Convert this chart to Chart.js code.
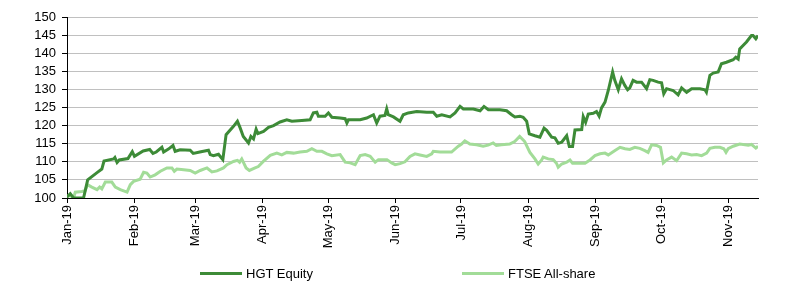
<!DOCTYPE html>
<html>
<head>
<meta charset="utf-8">
<script src="https://cdn.jsdelivr.net/npm/chart.js@4"></script>
<style>
  html, body { margin: 0; padding: 0; background: #fff; }
  #wrap { position: relative; width: 800px; height: 293px; font-family: "Liberation Sans", Arial, sans-serif; }
  .lg { position: absolute; top: 266px; height: 16px; font-size: 13px; line-height: 16px; color: #000; white-space: nowrap; }
  .lg i { display: inline-block; width: 42px; height: 3px; vertical-align: middle; margin-right: 4px; position: relative; top: -1px; }
</style>
</head>
<body>
<div id="wrap">
  <canvas id="c" width="800" height="293"></canvas>
  <div class="lg" style="left:200px"><i style="background:#3d8b37"></i>HGT Equity</div>
  <div class="lg" style="left:462px"><i style="background:#a2dc98"></i>FTSE All-share</div>
</div>
<script>
// month ticks (day number from 1 Jan 2019)
const monthStarts = [0, 31, 59, 90, 120, 151, 181, 212, 243, 273, 304];
const monthLabels = ['Jan-19', 'Feb-19', 'Mar-19', 'Apr-19', 'May-19', 'Jun-19', 'Jul-19', 'Aug-19', 'Sep-19', 'Oct-19', 'Nov-19'];

const yTicks = [100, 105, 110, 115, 120, 125, 130, 135, 140, 145, 150];

// HGT Equity, rebased to 100
const hgtDays = [0, 1.5, 3, 7.6, 9.5, 13.8, 16, 17, 21.4, 22, 23, 24, 28, 30, 31, 35, 38, 39.5, 41, 43.6,
  44.4, 46.6, 48.7, 49.7, 52, 56.6, 58, 61, 65, 65.8, 67.3, 69.6, 71.6, 73.1, 76.5, 78.3, 79.6, 81, 83.4, 84.5,
  85.7, 86.9, 87.7, 90.3, 92.6, 94.9, 97.9, 101, 103.3, 107.9, 111.7, 113.2, 114.8, 115.5, 118.6, 120.1, 121.7, 125.5, 127.8, 128.6,
  129.3, 134.7, 137.7, 140.8, 142.3, 143.8, 146.1, 146.9, 147.6, 150, 153, 154.5, 156.8, 160.7, 165.3, 168.3, 169.9, 172.2, 176, 178.3,
  180.6, 182.1, 186.7, 189.8, 191.6, 193.6, 198.9, 202, 204.3, 205.8, 208.1, 209.6, 211.2, 212.4, 215, 217.3, 219.2, 220.4, 222.7, 224.2,
  225.7, 227.3, 229.6, 230.8, 232.3, 233.4, 236.5, 237.2, 238.3, 239.5, 241.8, 243.3, 244.5, 245.6, 247.2, 248.7, 250.7, 251.7, 253.3, 254.8,
  256.3, 257.6, 258.6, 260.1, 261.7, 264, 266.3, 267.8, 269.3, 271.6, 273.2, 274.2, 275.5, 278.5, 280.8, 282.4, 284.7, 287, 290.8, 293.1,
  293.8, 295.4, 296.9, 299.2, 300.7, 303, 306.1, 307.3, 308.4, 309.1, 312.2, 314.5, 315.2, 316.5, 317.5];
const hgtValues = [100.3, 101.2, 100, 100, 105, 107, 108, 110.2, 110.8, 111.2, 109.8, 110.5, 110.9, 112.8, 111.5, 113, 113.4, 112.3, 112.7, 114,
  112.7, 113.5, 114.5, 112.9, 113.3, 113.2, 112.3, 112.7, 113.2, 112, 111.7, 112.1, 110.6, 117.5, 119.8, 121.2, 119.3, 117, 115.2, 117,
  116.3, 119, 117.8, 118.4, 119.5, 120, 121, 121.6, 121.2, 121.4, 121.6, 123.5, 123.7, 122.6, 122.6, 123.5, 122.3, 122.1, 121.9, 120.7,
  121.6, 121.6, 122.1, 123, 120.7, 122.6, 122.8, 124.6, 123, 122.4, 121.2, 123, 123.5, 123.9, 123.7, 123.7, 122.6, 123, 122.4, 123.5,
  125.3, 124.6, 124.6, 124.1, 125.3, 124.4, 124.4, 124.1, 123, 122.4, 122.6, 122.3, 121.2, 117.7, 117.2, 116.8, 119.3, 118.7, 116.8, 116.6,
  115.1, 115.4, 117.2, 114.2, 114.2, 118.8, 118.9, 122.5, 120.9, 123.2, 123.4, 123.9, 122.6, 124.9, 126.5, 129.7, 134.8, 132.5, 129.9, 132.9,
  131.1, 129.9, 130.4, 132.5, 132, 132, 130.2, 132.7, 132.5, 132, 131.8, 128.8, 130.2, 129.7, 128.5, 130.4, 129.2, 130.2, 130.2, 129.9,
  129.2, 133.9, 134.5, 134.8, 137.1, 137.5, 138.2, 138.9, 138.4, 141.2, 143.1, 144.9, 144.9, 144, 144.9];

// FTSE All-share, rebased to 100
const ftseDays = [0, 1.5, 3, 3.8, 6.8, 8.3, 9.4, 11.4, 13.8, 15, 16, 17.6, 20.6, 22.2, 24.5, 27.6, 29.1, 30.6, 33.6, 35.2,
  36.7, 38.2, 40.5, 42.9, 45.9, 48.2, 49.3, 50.5, 53.6, 56.6, 58.9, 61.2, 64.3, 66.6, 68.9, 71.9, 73.5, 76.5, 78.3, 79.3,
  80.3, 82.3, 83.8, 86.4, 87.9, 90.2, 93.4, 96.4, 98.7, 101, 104.1, 107.1, 110.2, 112.5, 114.8, 117.1, 119.4, 121.7, 125.5, 127.8,
  130.1, 132.4, 134.7, 137, 139.3, 141.6, 143.1, 147, 149.2, 150.8, 153, 155.3, 157.6, 159.9, 162.2, 165.3, 167.6, 168.3, 171.4, 176.7,
  179.8, 181.3, 182.8, 185.1, 188.2, 191.2, 193.5, 195.8, 197.3, 199.6, 203.4, 205.7, 208, 210.3, 212.7, 215, 216.5, 218.1, 218.8, 221.1,
  223.4, 224.9, 225.7, 227.3, 229.6, 231.1, 232.3, 238, 240.3, 242.6, 244.9, 247.2, 248.7, 251.8, 254.1, 256.4, 258.6, 260.9, 263.2, 265.5,
  267, 268.6, 270.9, 272.7, 274, 275.5, 277.8, 280.1, 282.4, 284.7, 287, 289.3, 291.6, 293.9, 295.4, 297.7, 300, 301.8, 302.8, 303.8,
  306.1, 309.1, 313, 314.5, 316.5, 317.5];
const ftseValues = [100.5, 100.7, 100, 101.6, 101.8, 102, 103.7, 103, 102.3, 103, 102.5, 104.4, 104.4, 103, 102.3, 101.6, 103.7, 104.6, 105.2, 107.1,
  106.9, 105.8, 106.4, 107.4, 108.3, 108.3, 107.4, 108, 107.8, 107.6, 106.9, 107.6, 108.3, 107.2, 107.5, 108.3, 109.2, 110.1, 110.4, 109.9,
  110.8, 108.3, 107.6, 108.3, 108.7, 110.1, 111.8, 112.4, 111.9, 112.6, 112.4, 112.7, 112.9, 113.6, 112.9, 112.9, 112.2, 111.7, 112, 109.9,
  109.7, 109.2, 111.7, 112, 111.5, 109.9, 110.6, 110.6, 109.7, 109.2, 109.5, 110, 111.5, 112.2, 111.9, 111.5, 112.2, 112.9, 112.7, 112.7,
  114.3, 114.9, 115.8, 114.9, 114.7, 114.3, 114.6, 115.2, 114.5, 114.7, 114.9, 115.6, 117, 115.6, 112.6, 110.8, 109.4, 110.5, 111.3, 110.8,
  110.6, 109.6, 108.5, 109.4, 109.9, 110.5, 109.6, 109.6, 110.5, 111.7, 112.2, 112.4, 111.9, 113.1, 114, 113.6, 113.4, 114, 113.7, 113.1,
  112.6, 114.7, 114.5, 114, 109.7, 110.5, 111.3, 110.3, 112.4, 112.2, 111.9, 112, 111.7, 112.4, 113.7, 114, 114, 113.6, 112.6, 113.6,
  114.3, 114.9, 114.6, 114.8, 113.8, 114.3];

const toPoints = (xs, ys) => xs.map((x, i) => ({ x: x, y: ys[i] }));

new Chart(document.getElementById('c'), {
  type: 'line',
  data: {
    datasets: [
      {
        label: 'HGT Equity',
        data: toPoints(hgtDays, hgtValues),
        borderColor: '#3d8b37',
        borderWidth: 3,
        pointRadius: 0,
        tension: 0
      },
      {
        label: 'FTSE All-share',
        data: toPoints(ftseDays, ftseValues),
        borderColor: '#a2dc98',
        borderWidth: 3,
        pointRadius: 0,
        tension: 0
      }
    ]
  },
  options: {
    responsive: false,
    animation: false,
    layout: { padding: { top: 17, right: 42, left: 0, bottom: 0 } },
    plugins: { legend: { display: false }, tooltip: { enabled: false } },
    font: { family: '"Liberation Sans", Arial, sans-serif' },
    scales: {
      x: {
        type: 'linear',
        min: 0,
        max: 317.5,
        afterBuildTicks: s => { s.ticks = monthStarts.map(v => ({ value: v })); },
        afterFit: s => { s.height = 95; },
        ticks: {
          autoSkip: false,
          minRotation: 90,
          maxRotation: 90,
          padding: 2,
          color: '#000',
          font: { size: 13, family: '"Liberation Sans", Arial, sans-serif' },
          callback: (v, i) => monthLabels[i]
        },
        grid: { drawOnChartArea: false, tickLength: 5, tickColor: '#000' },
        border: { color: '#000', width: 1 }
      },
      y: {
        min: 100,
        max: 150,
        afterBuildTicks: s => { s.ticks = yTicks.map(v => ({ value: v })); },
        afterFit: s => { s.width = 67; },
        ticks: {
          autoSkip: false,
          padding: 6,
          color: '#000',
          font: { size: 13, family: '"Liberation Sans", Arial, sans-serif' }
        },
        grid: { color: '#c0c0c0', tickColor: '#000', tickLength: 5 },
        border: { color: '#000', width: 1 }
      }
    }
  }
});
</script>
</body>
</html>
